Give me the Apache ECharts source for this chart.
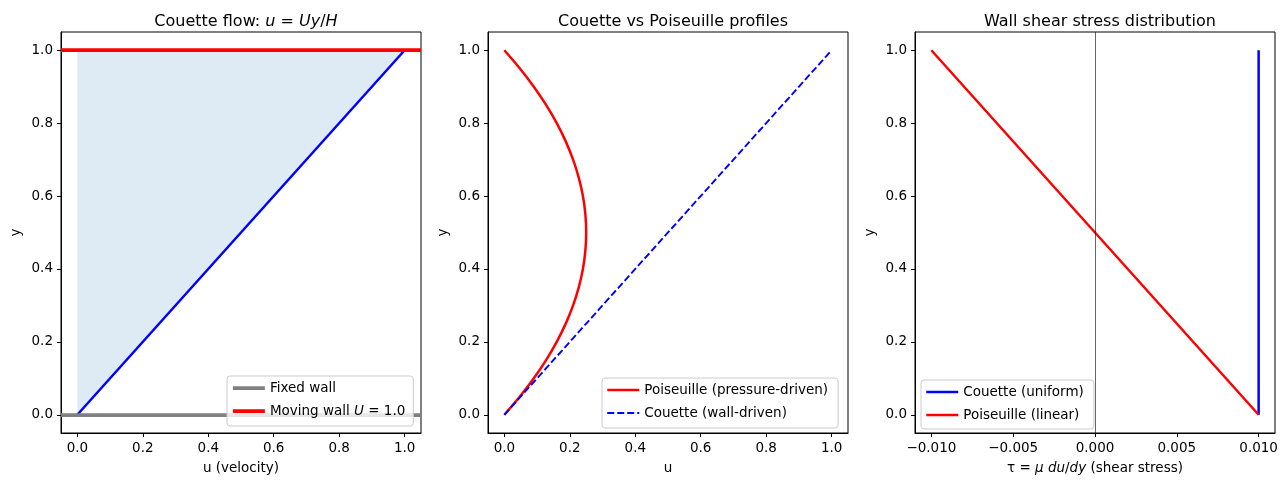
<!DOCTYPE html>
<html>
<head>
<meta charset="utf-8">
<script src="https://cdn.jsdelivr.net/npm/echarts@6/dist/echarts.min.js"></script>
<style>
  html, body { margin: 0; padding: 0; background: #fff; }
  #chart { width: 1287px; height: 490px; }
</style>
</head>
<body>
<div id="chart"></div>
<script>
// values
const couetteY = [0, 1.0];
const couetteU = [0, 1.0];
const poisY = [0, 0.05, 0.1, 0.15, 0.2, 0.25, 0.3, 0.35, 0.4, 0.45, 0.5, 0.55, 0.6, 0.65, 0.7, 0.75, 0.8, 0.85, 0.9, 0.95, 1.0];
const poisU = [0, 0.0475, 0.09, 0.1275, 0.16, 0.1875, 0.21, 0.2275, 0.24, 0.2475, 0.25, 0.2475, 0.24, 0.2275, 0.21, 0.1875, 0.16, 0.1275, 0.09, 0.0475, 0];
const fixedWallY = 0;
const movingWallY = 1.0;
const shearY = [0, 1.0];
const couetteTau = [0.01, 0.01];
const poisTauY = [0, 0.5, 1.0];
const poisTau = [0.01, 0, -0.01];

const unitTicks = [0, 0.2, 0.4, 0.6, 0.8, 1.0];
const tauTicks = [-0.01, -0.005, 0, 0.005, 0.01];

const FONT = "DejaVu Sans";
const FS = 13.5;
const pairs = (xs, ys) => xs.map((x, i) => [x, ys[i]]);

const myChart = echarts.init(document.getElementById("chart"));

function axis(gridIndex, min, max, ticks, fmt, name, nameGap, rich) {
  return {
    type: "value",
    gridIndex: gridIndex,
    min: min,
    max: max,
    name: name,
    nameLocation: "middle",
    nameGap: nameGap,
    nameTextStyle: { color: "#000", fontSize: FS, fontFamily: FONT, rich: rich || {} },
    axisLine: { show: true, onZero: false, lineStyle: { color: "#000", width: 1 } },
    axisTick: { show: true, length: 4, customValues: ticks, lineStyle: { color: "#000", width: 1 } },
    axisLabel: { customValues: ticks, color: "#000", fontSize: FS, fontFamily: FONT, margin: 8, formatter: fmt },
    splitLine: { show: false },
  };
}
const f1 = (v) => v.toFixed(1);
const f3 = (v) => v.toFixed(3).replace("-", "\u2212");
const italic = { i: { fontStyle: "italic", fontFamily: FONT, fontSize: FS, color: "#000" } };

const legendBase = {
  orient: "vertical",
  z: 20,
  backgroundColor: "rgba(255,255,255,0.8)",
  borderColor: "#cccccc",
  borderWidth: 1,
  borderRadius: 3,
  padding: [5, 10, 8, 4],
  itemWidth: 32,
  itemHeight: 14,
  itemGap: 9,
  itemStyle: { opacity: 0 },
  textStyle: { color: "#000", fontSize: FS, fontFamily: FONT, rich: italic },
  selectedMode: false,
};
const entry = (name, width, type) => ({ name: name, lineStyle: { width: width, type: type || "solid" } });

const titleStyle = {
  color: "#000", fontSize: 16, fontWeight: "normal", fontFamily: FONT,
  rich: { i: { fontStyle: "italic", fontSize: 16, fontFamily: FONT, color: "#000" } },
};

const option = {
  animation: false,
  textStyle: { fontFamily: FONT },
  title: [
    { text: "Couette flow: {i|u} = {i|Uy}/{i|H}", left: 241, top: 9, textAlign: "center", textStyle: titleStyle },
    { text: "Couette vs Poiseuille profiles", left: 668, top: 9, textAlign: "center", textStyle: titleStyle },
    { text: "Wall shear stress distribution", left: 1095, top: 9, textAlign: "center", textStyle: titleStyle },
  ],
  grid: [
    { left: 61, top: 32, width: 360, height: 401, show: true, borderColor: "#000", borderWidth: 1 },
    { left: 488, top: 32, width: 360, height: 401, show: true, borderColor: "#000", borderWidth: 1 },
    { left: 915, top: 32, width: 360, height: 401, show: true, borderColor: "#000", borderWidth: 1 },
  ],
  xAxis: [
    axis(0, -0.05, 1.05, unitTicks, f1, "u (velocity)", 28),
    axis(1, -0.05, 1.05, unitTicks, f1, "u", 28),
    axis(2, -0.011, 0.011, tauTicks, f3, "τ = {i|μ du}/{i|dy} (shear stress)", 28, italic),
  ],
  yAxis: [
    axis(0, -0.05, 1.05, unitTicks, f1, "y", 38),
    axis(1, -0.05, 1.05, unitTicks, f1, "y", 38),
    axis(2, -0.05, 1.05, unitTicks, f1, "y", 38),
  ],
  legend: [
    Object.assign({}, legendBase, {
      left: 227, top: 376,
      padding: [5, 8, 8, 4],
      data: [entry("Fixed wall", 3.75), entry("Moving wall U = 1.0", 3.75)],
      formatter: (n) => (n === "Moving wall U = 1.0" ? "Moving wall {i|U} = 1.0" : n),
    }),
    Object.assign({}, legendBase, {
      left: 602, top: 378,
      data: [entry("Poiseuille (pressure-driven)", 2.5), entry("Couette (wall-driven)", 1.9, [7, 3])],
    }),
    Object.assign({}, legendBase, {
      left: 921, top: 380,
      padding: [5, 10, 7, 4],
      data: [entry("Couette (uniform)", 2.5), entry("Poiseuille (linear)", 2.5)],
    }),
  ],
  series: [
    // panel 1: shaded region between x=0 and the profile
    {
      type: "custom",
      xAxisIndex: 0, yAxisIndex: 0,
      silent: true,
      clip: true,
      data: pairs(couetteU, couetteY),
      renderItem: (params, api) => {
        if (params.dataIndex !== 0) return;
        const pts = [];
        couetteY.forEach((y) => pts.push(api.coord([0, y])));
        for (let i = couetteY.length - 1; i >= 0; i--) pts.push(api.coord([couetteU[i], couetteY[i]]));
        return { type: "polygon", shape: { points: pts }, style: { fill: "rgba(31,119,180,0.15)" } };
      },
      z: 1,
    },
    {
      name: "profile",
      type: "line",
      xAxisIndex: 0, yAxisIndex: 0,
      data: pairs(couetteU, couetteY),
      symbol: "none",
      lineStyle: { color: "#0000ff", width: 2.5 },
      z: 2,
    },
    {
      name: "Fixed wall",
      type: "line",
      xAxisIndex: 0, yAxisIndex: 0,
      data: [],
      symbol: "none",
      color: "#808080",
      lineStyle: { color: "#808080", width: 3.75 },
      markLine: {
        silent: true, symbol: "none", label: { show: false },
        lineStyle: { color: "#808080", width: 3.75, type: "solid" },
        data: [{ yAxis: fixedWallY }],
      },
      z: 3,
    },
    {
      name: "Moving wall U = 1.0",
      type: "line",
      xAxisIndex: 0, yAxisIndex: 0,
      data: [],
      symbol: "none",
      color: "#ff0000",
      lineStyle: { color: "#ff0000", width: 3.75 },
      markLine: {
        silent: true, symbol: "none", label: { show: false },
        lineStyle: { color: "#ff0000", width: 3.75, type: "solid" },
        data: [{ yAxis: movingWallY }],
      },
      z: 3,
    },
    // panel 2
    {
      name: "Poiseuille (pressure-driven)",
      type: "line",
      xAxisIndex: 1, yAxisIndex: 1,
      data: pairs(poisU, poisY),
      symbol: "none",
      smooth: 0.3,
      color: "#ff0000",
      lineStyle: { color: "#ff0000", width: 2.5 },
    },
    {
      name: "Couette (wall-driven)",
      type: "line",
      xAxisIndex: 1, yAxisIndex: 1,
      data: pairs(couetteU, couetteY),
      symbol: "none",
      color: "#0000ff",
      lineStyle: { color: "#0000ff", width: 1.9, type: [7, 3] },
    },
    // panel 3
    {
      name: "Couette (uniform)",
      type: "line",
      xAxisIndex: 2, yAxisIndex: 2,
      data: pairs(couetteTau, shearY),
      symbol: "none",
      color: "#0000ff",
      lineStyle: { color: "#0000ff", width: 2.5 },
      markLine: {
        silent: true, symbol: "none", label: { show: false },
        lineStyle: { color: "#000", width: 0.6, type: "solid" },
        data: [{ xAxis: 0 }],
      },
    },
    {
      name: "Poiseuille (linear)",
      type: "line",
      xAxisIndex: 2, yAxisIndex: 2,
      data: pairs(poisTau, poisTauY),
      symbol: "none",
      color: "#ff0000",
      lineStyle: { color: "#ff0000", width: 2.5 },
    },
  ],
};

myChart.setOption(option);
</script>
</body>
</html>
